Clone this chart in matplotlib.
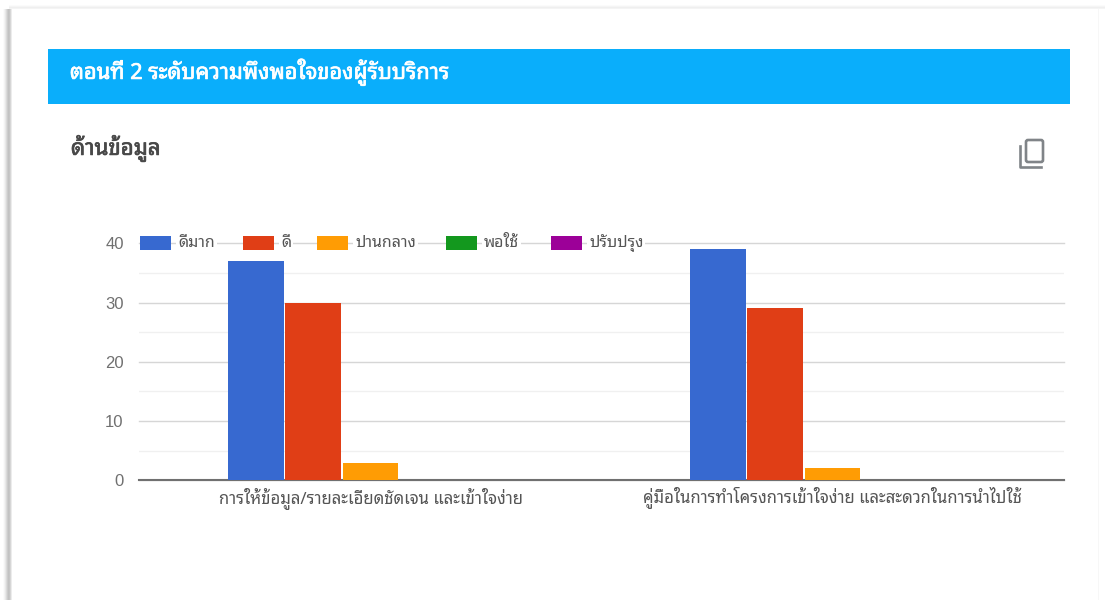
import matplotlib
matplotlib.use('Agg')
import matplotlib.pyplot as plt
from matplotlib.patches import Rectangle, FancyBboxPatch
from matplotlib import patheffects as pe
from matplotlib import font_manager as fm
import numpy as np

# looped thai face is closest to the reference, fall back if the name differs
available = {f.name for f in fm.fontManager.ttflist}
thai = next(n for n in ['Noto Sans Thai Looped', 'IBM Plex Sans Thai Looped', 'Noto Sans Thai'] if n in available)
plt.rcParams['font.family'] = [thai, 'Liberation Sans', 'DejaVu Sans']

W, H = 1105, 600

header_text = 'ตอนที่ 2 ระดับความพึงพอใจของผู้รับบริการ'
chart_title = 'ด้านข้อมูล'
categories = ['การให้ข้อมูล/รายละเอียดชัดเจน และเข้าใจง่าย',
              'คู่มือในการทำโครงการเข้าใจง่าย และสะดวกในการนำไปใช้']
series_names = ['ดีมาก', 'ดี', 'ปานกลาง', 'พอใช้', 'ปรับปรุง']
very_good = [37, 39]
good = [30, 29]
medium = [3, 2]
fair = [0, 0]
improve = [0, 0]
series = [very_good, good, medium, fair, improve]
colors = ['#3769D0', '#E03E16', '#FF9C04', '#13981E', '#9C0098']
y_ticks = [0, 10, 20, 30, 40]
y_minor = [5, 15, 25, 35]

fig = plt.figure(figsize=(W / 100, H / 100), dpi=100, facecolor='white')

# background layer in pixel coords: card shadow, header band, titles
bg = fig.add_axes([0, 0, 1, 1], zorder=0)
bg.set_xlim(0, W)
bg.set_ylim(H, 0)
bg.axis('off')

# shadow around the card
shadow_left = ['#fbfbfb', '#f3f3f3', '#e8e8e8', '#dadada', '#cccccc', '#c2c2c2', '#c6c6c6', '#d6d6d6', '#ececec']
for i, c in enumerate(shadow_left):
    bg.add_patch(Rectangle((3 + i, 9), 1, H - 9, color=c, lw=0))
for y, c in [(5, '#fbfbfb'), (6, '#f5f5f5'), (7, '#efefef'), (8, '#f4f4f4')]:
    bg.add_patch(Rectangle((9, y), W - 9, 1, color=c, lw=0))
bg.add_patch(Rectangle((1098, 9), 1, H - 9, color='#f7f7f7', lw=0))

bg.add_patch(Rectangle((48, 49), 1022, 55, color='#0AAEFB', lw=0))
# regular weight only, thicken with a thin stroke
bg.text(70, 72, header_text, color='white', fontsize=15.7, va='center',
        path_effects=[pe.withStroke(linewidth=0.5, foreground='white')])
bg.text(71, 148, chart_title, color='#484848', fontsize=16, va='center',
        path_effects=[pe.withStroke(linewidth=0.5, foreground='#484848')])

# copy icon
bg.add_patch(FancyBboxPatch((1026, 140), 17, 22, boxstyle='round,pad=0,rounding_size=2',
                            fill=False, ec='#808488', lw=1.9))
bg.plot([1019.5, 1019.5, 1041], [146, 167, 167], color='#808488', lw=1.9, solid_joinstyle='round')

# chart
ax = fig.add_axes([139 / W, 1 - 480.3 / H, 925 / W, 237 / H], zorder=1)
ax.patch.set_alpha(0)
x = np.arange(len(categories))
bar_step = 0.1240
bar_w = 0.1205
for i, vals in enumerate(series):
    ax.bar(x + (i - 2) * bar_step, vals, bar_w, color=colors[i], zorder=3)

ax.set_xlim(-0.5011, 1.5011)
ax.set_ylim(0, 40)
ax.set_yticks(y_ticks)
ax.set_yticks(y_minor, minor=True)
ax.set_xticks(x)
ax.set_xticklabels(categories, fontsize=12, color='#555555')
ax.tick_params(axis='both', which='both', length=0)
ax.tick_params(axis='x', pad=5)
ax.tick_params(axis='y', pad=11, labelsize=12, labelcolor='#707070')
for lab in ax.get_yticklabels():
    lab.set_family(['Liberation Sans'])
ax.grid(axis='y', which='major', color='#d6d6d6', lw=1, zorder=1)
ax.grid(axis='y', which='minor', color='#f0f0f0', lw=1, zorder=1)
ax.set_axisbelow(True)
for s in ['top', 'right', 'left']:
    ax.spines[s].set_visible(False)
ax.spines['bottom'].set_color('#707070')
ax.spines['bottom'].set_linewidth(1.5)
for gl in ax.get_ygridlines():
    gl.set_clip_on(False)

# legend sits on the 40 gridline, google charts style
top = fig.add_axes([0, 0, 1, 1], zorder=2)
top.set_xlim(0, W)
top.set_ylim(H, 0)
top.axis('off')
legend_x = [140, 243, 317, 446, 551]
for lx, name, c in zip(legend_x, series_names, colors):
    top.add_patch(Rectangle((lx, 236), 31, 14, color=c, lw=0))
    top.text(lx + 38, 243, name, fontsize=11.5, color='#555555', va='center',
             bbox=dict(facecolor='white', edgecolor='none', pad=1.5))

fig.savefig('out.png', dpi=100)
